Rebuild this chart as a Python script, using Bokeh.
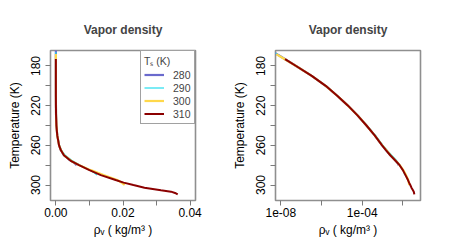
from bokeh.plotting import figure
from bokeh.models import Range1d, FixedTicker, Legend, LegendItem
from bokeh.layouts import row
from bokeh.embed import file_html
from bokeh.resources import INLINE

# ---- data ----
series_labels = ["280", "290", "300", "310"]
series_colors = ["#6A6ACD", "#22DDEE", "#FFD84A", "#8B0000"]
series_widths = [2.2, 1.2, 2.2, 2.0]

T_280 = [163, 165, 170, 180, 190, 200, 210, 220, 230, 240, 250, 260, 265, 270, 274, 278, 280]
rho_280 = [2.6e-9, 3.5e-9, 9e-9, 5.6e-8, 3.3e-7, 1.6e-6, 5.9e-6, 2.0e-5, 6.0e-5, 1.62e-4,
           4.1e-4, 9.5e-4, 1.5e-3, 2.4e-3, 3.8e-3, 5.6e-3, 6.2e-3]

T_290 = [166, 170, 180, 190, 200, 210, 220, 230, 240, 250, 260, 265, 270, 275, 280, 285, 288, 290]
rho_290 = [4.5e-9, 9e-9, 5.7e-8, 3.4e-7, 1.6e-6, 6.0e-6, 2.0e-5, 6.1e-5, 1.68e-4,
           4.5e-4, 1.05e-3, 1.7e-3, 2.8e-3, 4.7e-3, 7.3e-3, 1.02e-2, 1.16e-2, 1.22e-2]

T_300 = [168, 170, 180, 190, 200, 210, 220, 230, 240, 250, 260, 265, 270, 276, 280, 285, 290, 295, 298, 300]
rho_300 = [6e-9, 8.5e-9, 5.6e-8, 3.3e-7, 1.6e-6, 5.9e-6, 2.0e-5, 6.0e-5, 1.62e-4,
           4.1e-4, 9.6e-4, 1.55e-3, 2.45e-3, 4.7e-3, 7.0e-3, 1.04e-2, 1.42e-2, 1.83e-2, 1.98e-2, 2.05e-2]

T_310 = [173, 180, 190, 200, 210, 220, 230, 240, 250, 260, 265, 270, 276, 280, 285, 290, 295,
         297.6, 300, 302.7, 305.3, 306.7, 308, 309.5]
rho_310 = [1.6e-8, 5.6e-8, 3.3e-7, 1.6e-6, 5.9e-6, 2.0e-5, 6.0e-5, 1.62e-4, 4.1e-4, 9.5e-4,
           1.5e-3, 2.4e-3, 4.6e-3, 6.9e-3, 1.0e-2, 1.34e-2, 1.78e-2, 2.02e-2, 2.31e-2, 2.64e-2,
           3.13e-2, 3.43e-2, 3.55e-2, 3.63e-2]

T_series = [T_280, T_290, T_300, T_310]
rho_series = [rho_280, rho_290, rho_300, rho_310]

y_ticks = [180, 200, 220, 240, 260, 280, 300]
y_tick_labels = ["180", "", "220", "", "260", "", "300"]
x_lin_ticks = [0.0, 0.01, 0.02, 0.03, 0.04]
x_lin_labels = ["0.00", "", "0.02", "", "0.04"]
x_log_ticks = [1e-8, 1e-6, 1e-4, 1e-2]
x_log_labels = ["1e-08", "", "1e-04", ""]

FONT = "Liberation Sans"
BOX = "#8f8f8f"
TICK = "#7a7a7a"


def style(p, xticks, xlabels):
    p.outline_line_color = BOX
    p.outline_line_width = 1.6
    p.xgrid.visible = False
    p.ygrid.visible = False
    p.background_fill_color = "white"
    p.border_fill_color = "white"
    p.title.align = "center"
    p.title.text_font = FONT
    p.title.text_font_size = "12px"
    p.title.text_font_style = "bold"
    p.title.standoff = 27
    for ax in (p.xaxis[0], p.yaxis[0]):
        ax.axis_line_color = None
        ax.major_tick_line_color = TICK
        ax.major_tick_out = 5
        ax.major_tick_in = 0
        ax.minor_tick_line_color = None
        ax.major_label_text_font = FONT
        ax.major_label_text_font_size = "12px"
        ax.major_label_text_color = "black"
        ax.axis_label_text_font = FONT
        ax.axis_label_text_font_size = "12px"
        ax.axis_label_text_font_style = "normal"
        ax.axis_label_text_color = "black"
    p.xaxis.ticker = FixedTicker(ticks=xticks)
    p.xaxis.major_label_overrides = dict(zip(xticks, xlabels))
    p.xaxis.major_label_standoff = 2
    p.xaxis.axis_label_standoff = 3
    p.xaxis.axis_label = "ρᵥ ( kg/m³ )"
    p.yaxis.ticker = FixedTicker(ticks=y_ticks)
    p.yaxis.major_label_overrides = dict(zip(y_ticks, y_tick_labels))
    p.yaxis.major_label_orientation = "vertical"
    p.yaxis.major_label_standoff = 5
    p.yaxis.axis_label_standoff = 7
    p.yaxis.axis_label = "Temperature (K)"


p1 = figure(frame_width=145, frame_height=150, min_border_left=50, min_border_right=30,
            min_border_top=50, min_border_bottom=50, output_backend="svg",
            toolbar_location=None, title="Vapor density",
            x_range=Range1d(-0.0016, 0.0416), y_range=Range1d(315.6, 164.4))
p2 = figure(frame_width=145, frame_height=150, min_border_left=50, min_border_right=30,
            min_border_top=50, min_border_bottom=50, output_backend="svg",
            toolbar_location=None, title="Vapor density", x_axis_type="log",
            x_range=Range1d(10 ** -8.264, 10 ** -1.134), y_range=Range1d(315.6, 164.4))

items = []
for lab, col, lw, T, rho in zip(series_labels, series_colors, series_widths, T_series, rho_series):
    r1 = p1.line(rho, T, line_color=col, line_width=lw)
    p2.line(rho, T, line_color=col, line_width=lw)
    items.append(LegendItem(label=lab, renderers=[r1]))

style(p1, x_lin_ticks, x_lin_labels)
style(p2, x_log_ticks, x_log_labels)

legend = Legend(items=items, location="top_right", margin=0, padding=3, spacing=0,
                glyph_width=20, glyph_height=13, label_height=13, label_width=18,
                label_standoff=9, label_text_font=FONT, label_text_font_size="10.5px",
                title="Tₛ (K)", title_text_font=FONT, title_text_font_size="10.5px",
                title_text_font_style="normal", title_standoff=0,
                border_line_color="#444444", border_line_width=1,
                background_fill_color="white", background_fill_alpha=1.0)
p1.add_layout(legend)

layout = row(p1, p2)
open("out.html", "w").write(file_html(layout, INLINE))
